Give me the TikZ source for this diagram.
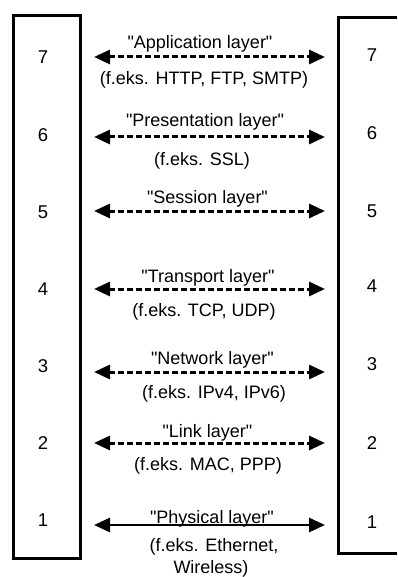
\documentclass[tikz,border=0pt]{standalone}
\usepackage{fontspec}
\setmainfont[Ligatures=TeXOff]{Liberation Sans}
\usetikzlibrary{arrows.meta}

\begin{document}
\begin{tikzpicture}[x=1pt,y=-1pt,
  stack/.style={draw, line width=3pt},
  num/.style={font=\fontsize{18.5}{21}\selectfont, inner sep=0pt},
  lbl/.style={font=\fontsize{18}{21}\selectfont, anchor=base, inner sep=0pt},
  tip/.tip={Triangle[length=16pt,width=14pt]},
  proto/.style={line width=3pt, dash pattern=on 5.5pt off 3.5pt, tip-tip},
  phys/.style={line width=2.8pt, tip-tip}]
\useasboundingbox (0,0) rectangle (397,577);
\clip (0,0) rectangle (397,577);

% the two protocol stacks (the right one is open towards the edge)
\draw[stack] (13.5,15.5) rectangle (80.5,558.5);
\draw[stack] (397,17.5) -- (338.5,17.5) -- (338.5,553.5) -- (397,553.5);

% layer numbers, left and right
\foreach \n/\yl/\yr in {7/57/55, 6/135/133, 5/212/211, 4/289/286, 3/366/364, 2/443/443, 1/520/522} {
  \node[num] (L\n) at (43,\yl) {\n};
  \node[num] (R\n) at (372,\yr) {\n};
}

% end points of the peer-to-peer links
\foreach \n/\y in {7/57, 6/137, 5/211, 4/289, 3/372, 2/443, 1/525} {
  \coordinate (a\n) at (94,\y);
  \coordinate (b\n) at (325,\y);
}

\draw[proto] (a7) -- (b7);
\draw[proto] (a6) -- (b6);
\draw[proto] (a5) -- (b5);
\draw[proto] (a4) -- (b4);
\draw[proto] (a3) -- (b3);
\draw[proto] (a2) -- (b2);
\draw[phys]  (a1) -- (b1);

% layer names and example protocols
\node[lbl] (t7)  at (200,49)  {"Application layer"};
\node[lbl] (e7)  at (204,85)  {(f.eks. HTTP, FTP, SMTP)};
\node[lbl] (t6)  at (205,127) {"Presentation layer"};
\node[lbl] (e6)  at (202,166) {(f.eks. SSL)};
\node[lbl] (t5)  at (207.5,204) {"Session layer"};
\node[lbl] (t4)  at (208,282) {"Transport layer"};
\node[lbl] (e4)  at (204,316) {(f.eks. TCP, UDP)};
\node[lbl] (t3)  at (212.5,364) {"Network layer"};
\node[lbl] (e3)  at (214,398) {(f.eks. IPv4, IPv6)};
\node[lbl] (t2)  at (207.5,437) {"Link layer"};
\node[lbl] (e2)  at (208,470) {(f.eks. MAC, PPP)};
\node[lbl] (t1)  at (212,523) {"Physical layer"};
\node[lbl] (e1)  at (214,551) {(f.eks. Ethernet,};
\node[lbl] (e1b) at (211,573) {Wireless)};
\end{tikzpicture}
\end{document}
